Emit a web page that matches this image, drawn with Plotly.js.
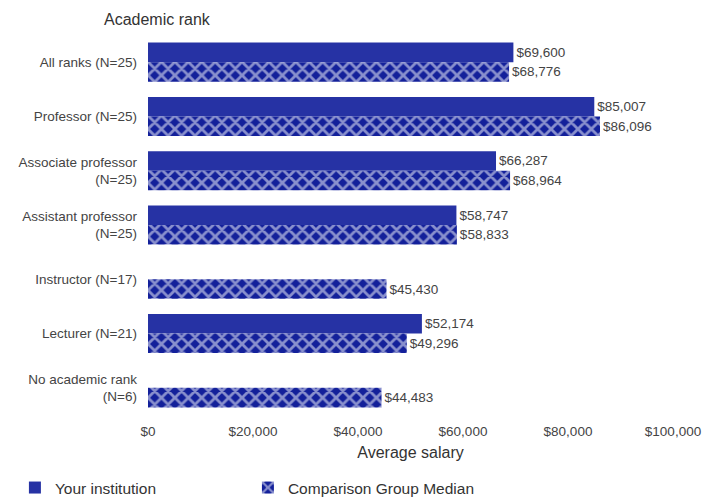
<!DOCTYPE html>
<html>
<head>
<meta charset="utf-8">
<script src="https://cdn.plot.ly/plotly-3.0.1.min.js"></script>
<style>html,body{margin:0;padding:0;background:#fff;}#chart{width:724px;height:499px;}</style>
</head>
<body>
<div id="chart"></div>
<script>
const categories = ["All ranks (N=25)", "Professor (N=25)", "Associate professor<br>(N=25)", "Assistant professor<br>(N=25)", "Instructor (N=17)", "Lecturer (N=21)", "No academic rank<br>(N=6)"];
const yourInstitution = [69600, 85007, 66287, 58747, null, 52174, null];
const comparisonMedian = [68776, 86096, 68964, 58833, 45430, 49296, 44483];
const tickValues = [0, 20000, 40000, 60000, 80000, 100000];
const tickLabels = ["$0", "$20,000", "$40,000", "$60,000", "$80,000", "$100,000"];

const fmt = v => v == null ? "" : "$" + v.toLocaleString("en-US");
const FONT = "Liberation Sans, Arial, sans-serif";

const traces = [
  {
    type: "bar", orientation: "h", name: "Your institution",
    y: categories, x: yourInstitution,
    text: yourInstitution.map(fmt), textposition: "outside", cliponaxis: false,
    constraintext: "none",
    textfont: {family: FONT, size: 13.5, color: "#444"},
    marker: {color: "#2632a4", line: {width: 0}},
    hoverinfo: "x+name"
  },
  {
    type: "bar", orientation: "h", name: "Comparison Group Median",
    y: categories, x: comparisonMedian,
    text: comparisonMedian.map(fmt), textposition: "outside", cliponaxis: false,
    constraintext: "none",
    textfont: {family: FONT, size: 13.5, color: "#444"},
    marker: {color: "#13209a", line: {width: 0},
      pattern: {shape: "x", fgcolor: "#ffffff", bgcolor: "#13209a", size: 9.5, solidity: 0.5, fillmode: "overlay"}},
    hoverinfo: "x+name"
  }
];

const layout = {
  width: 724, height: 499,
  margin: {l: 148, r: 51, t: 35, b: 84, autoexpand: false},
  paper_bgcolor: "#fff", plot_bgcolor: "#fff",
  barmode: "group", bargap: 0.28, bargroupgap: 0,
  font: {family: FONT, size: 13.5, color: "#444"},
  xaxis: {
    range: [0, 100000], tickvals: tickValues, ticktext: tickLabels,
    showgrid: false, zeroline: false, showline: false, ticks: "",
    ticklabelstandoff: 6, automargin: false,
    tickfont: {family: FONT, size: 13.5, color: "#444"},
    title: {text: "Average salary", font: {family: FONT, size: 16, color: "#333"}, standoff: 9}
  },
  yaxis: {
    categoryorder: "array", categoryarray: categories, autorange: "reversed",
    showgrid: false, zeroline: false, showline: false, ticks: "",
    ticklabelstandoff: 10, automargin: false,
    tickfont: {family: FONT, size: 13.5, color: "#444"}
  },
  showlegend: true,
  legend: {
    orientation: "h", x: -0.2535, xanchor: "left", y: -0.192, yanchor: "middle",
    font: {family: FONT, size: 15.5, color: "#333"},
    entrywidth: 188, traceorder: "normal"
  },
  annotations: [{
    text: "Academic rank", xref: "paper", yref: "paper",
    x: -0.087, xanchor: "left", y: 1.042, yanchor: "middle",
    showarrow: false, font: {family: FONT, size: 16, color: "#333"}
  }]
};

Plotly.newPlot("chart", traces, layout, {displayModeBar: false, staticPlot: true});
</script>
</body>
</html>
